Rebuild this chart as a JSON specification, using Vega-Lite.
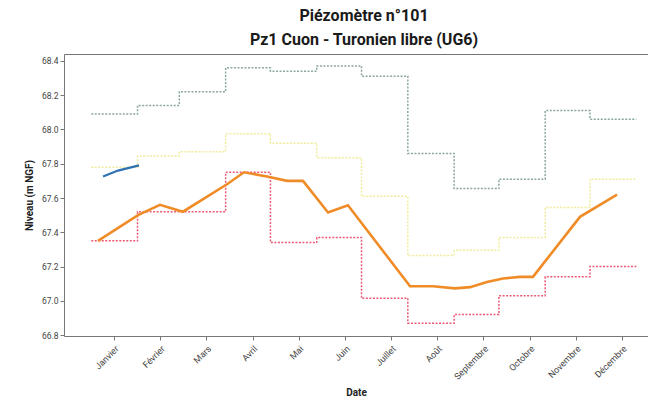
{
  "$schema": "https://vega.github.io/schema/vega-lite/v6.json",
  "width": 584,
  "height": 282,
  "autosize": {"type": "none"},
  "padding": {"left": 64, "top": 54, "right": 0, "bottom": 66},
  "background": "white",
  "title": {
    "text": ["Piézomètre n°101", "Pz1 Cuon - Turonien libre (UG6)"],
    "font": "Roboto",
    "fontSize": 16,
    "fontWeight": "bold",
    "color": "#1a1a1a",
    "lineHeight": 24,
    "anchor": "middle",
    "dx": 8,
    "offset": 6
  },
  "config": {
    "view": {"stroke": null},
    "axis": {
      "grid": false,
      "labelFont": "Roboto",
      "titleFont": "Roboto",
      "domainColor": "#777777",
      "tickColor": "#777777",
      "labelColor": "#444444",
      "labelFontSize": 9,
      "titleFontSize": 10,
      "titleFontWeight": "bold",
      "titleColor": "#222222",
      "tickSize": 4
    },
    "axisY": {
      "values": [66.8, 67.0, 67.2, 67.4, 67.6, 67.8, 68.0, 68.2, 68.4],
      "format": ".1f",
      "labelPadding": 2,
      "titlePadding": 7,
      "labelOverlap": false,
      "labelFontSize": 8.5
    }
  },
  "datasets": {
    "steps": [
      {"serie": "Maximum", "jour": 0, "niveau": 68.09},
      {"serie": "Maximum", "jour": 31, "niveau": 68.14},
      {"serie": "Maximum", "jour": 59, "niveau": 68.22},
      {"serie": "Maximum", "jour": 90, "niveau": 68.36},
      {"serie": "Maximum", "jour": 120, "niveau": 68.34},
      {"serie": "Maximum", "jour": 151, "niveau": 68.37},
      {"serie": "Maximum", "jour": 181, "niveau": 68.31},
      {"serie": "Maximum", "jour": 212, "niveau": 67.86},
      {"serie": "Maximum", "jour": 243, "niveau": 67.655},
      {"serie": "Maximum", "jour": 273, "niveau": 67.71},
      {"serie": "Maximum", "jour": 304, "niveau": 68.11},
      {"serie": "Maximum", "jour": 334, "niveau": 68.06},
      {"serie": "Maximum", "jour": 365, "niveau": 68.06},
      {"serie": "Moyenne", "jour": 0, "niveau": 67.78},
      {"serie": "Moyenne", "jour": 31, "niveau": 67.845},
      {"serie": "Moyenne", "jour": 59, "niveau": 67.87},
      {"serie": "Moyenne", "jour": 90, "niveau": 67.975},
      {"serie": "Moyenne", "jour": 120, "niveau": 67.92},
      {"serie": "Moyenne", "jour": 151, "niveau": 67.835},
      {"serie": "Moyenne", "jour": 181, "niveau": 67.61},
      {"serie": "Moyenne", "jour": 212, "niveau": 67.265},
      {"serie": "Moyenne", "jour": 243, "niveau": 67.295},
      {"serie": "Moyenne", "jour": 273, "niveau": 67.37},
      {"serie": "Moyenne", "jour": 304, "niveau": 67.545},
      {"serie": "Moyenne", "jour": 334, "niveau": 67.71},
      {"serie": "Moyenne", "jour": 365, "niveau": 67.71},
      {"serie": "Minimum", "jour": 0, "niveau": 67.35},
      {"serie": "Minimum", "jour": 31, "niveau": 67.52},
      {"serie": "Minimum", "jour": 59, "niveau": 67.52},
      {"serie": "Minimum", "jour": 90, "niveau": 67.75},
      {"serie": "Minimum", "jour": 120, "niveau": 67.34},
      {"serie": "Minimum", "jour": 151, "niveau": 67.37},
      {"serie": "Minimum", "jour": 181, "niveau": 67.015},
      {"serie": "Minimum", "jour": 212, "niveau": 66.87},
      {"serie": "Minimum", "jour": 243, "niveau": 66.92},
      {"serie": "Minimum", "jour": 273, "niveau": 67.03},
      {"serie": "Minimum", "jour": 304, "niveau": 67.14},
      {"serie": "Minimum", "jour": 334, "niveau": 67.2},
      {"serie": "Minimum", "jour": 365, "niveau": 67.2}
    ],
    "precedente": [
      {"jour": 4.5, "niveau": 67.35},
      {"jour": 31.3, "niveau": 67.5},
      {"jour": 46.0, "niveau": 67.56},
      {"jour": 61.4, "niveau": 67.52},
      {"jour": 90.9, "niveau": 67.68},
      {"jour": 102.3, "niveau": 67.75},
      {"jour": 117.7, "niveau": 67.725},
      {"jour": 131.1, "niveau": 67.7},
      {"jour": 141.8, "niveau": 67.7},
      {"jour": 158.6, "niveau": 67.515},
      {"jour": 171.9, "niveau": 67.558},
      {"jour": 213.5, "niveau": 67.085},
      {"jour": 228.9, "niveau": 67.085},
      {"jour": 243.6, "niveau": 67.073},
      {"jour": 253.7, "niveau": 67.08},
      {"jour": 265.0, "niveau": 67.11},
      {"jour": 275.7, "niveau": 67.13},
      {"jour": 287.1, "niveau": 67.14},
      {"jour": 295.8, "niveau": 67.14},
      {"jour": 327.3, "niveau": 67.49},
      {"jour": 352.1, "niveau": 67.62}
    ],
    "encours": [
      {"jour": 7.9, "niveau": 67.725},
      {"jour": 17.9, "niveau": 67.76},
      {"jour": 32.0, "niveau": 67.79}
    ]
  },
  "layer": [
    {
      "data": {"name": "steps"},
      "mark": {"type": "line", "interpolate": "step-after", "strokeDash": [2, 1.5], "strokeWidth": 1.5},
      "encoding": {
        "x": {
          "field": "jour",
          "type": "quantitative",
          "scale": {"domain": [-18.25, 372.85], "nice": false, "zero": false},
          "axis": {
            "orient": "bottom",
            "title": "Date",
            "titlePadding": 6,
            "values": [15.2, 46.1, 77.1, 108.0, 138.9, 169.9, 200.8, 231.7, 262.6, 293.6, 324.5, 355.4],
            "labelExpr": "['Janvier','Février','Mars','Avril','Mai','Juin','Juillet','Août','Septembre','Octobre','Novembre','Décembre'][round((datum.value-15.2)/30.93)]",
            "labelAngle": -45,
            "labelAlign": "right",
            "labelBaseline": "top",
            "labelPadding": 4,
            "encode": {
              "labels": {
                "update": {
                  "dx": {"signal": "[4.8,4.4,2.8,2.1,1.4,1.9,3.6,2.4,8.4,5.5,7.8,7.7][round((datum.value-15.2)/30.93)]"},
                  "dy": {"signal": "[4.8,4.4,2.8,2.1,1.4,1.9,3.6,2.4,8.4,5.5,7.8,7.7][round((datum.value-15.2)/30.93)]"}
                }
              }
            }
          }
        },
        "y": {
          "field": "niveau",
          "type": "quantitative",
          "scale": {"domain": [66.795, 68.44], "nice": false, "zero": false},
          "axis": {"title": "Niveau (m NGF)"}
        },
        "color": {
          "field": "serie",
          "type": "nominal",
          "scale": {"domain": ["Maximum", "Moyenne", "Minimum"], "range": ["#8aa89a", "#f0ec9c", "#ea5a74"]},
          "legend": null
        }
      }
    },
    {
      "data": {"name": "precedente"},
      "mark": {"type": "line", "color": "#f08c28", "strokeWidth": 2.6},
      "encoding": {
        "x": {
          "field": "jour",
          "type": "quantitative",
          "axis": {"orient": "top", "labels": false, "ticks": false, "title": null, "domainColor": "#777777"}
        },
        "y": {"field": "niveau", "type": "quantitative", "axis": {"title": "Niveau (m NGF)"}}
      }
    },
    {
      "data": {"name": "encours"},
      "mark": {"type": "line", "color": "#2f72b0", "strokeWidth": 2.2},
      "encoding": {
        "x": {"field": "jour", "type": "quantitative", "axis": null},
        "y": {"field": "niveau", "type": "quantitative", "axis": {"title": "Niveau (m NGF)"}}
      }
    }
  ],
  "resolve": {"axis": {"x": "independent"}}
}
